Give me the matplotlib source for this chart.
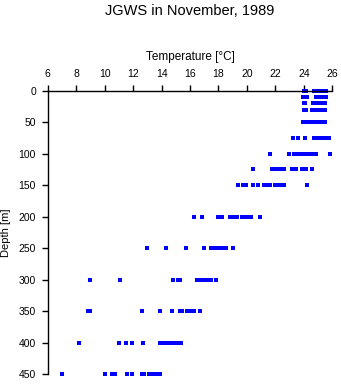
import matplotlib
matplotlib.use("Agg")
import matplotlib.pyplot as plt

plt.rcParams['font.family'] = ['Liberation Sans', 'DejaVu Sans']

# temperature readings (deg C) per sampling depth (m)
depths = [0, 10, 20, 30, 50, 75, 100, 125, 150, 200, 250, 300, 350, 400, 450]
temps = [
    [24.0, 24.15, 24.7, 24.85, 25.0, 25.1, 25.25, 25.4, 25.55],
    [23.95, 24.1, 24.25, 24.85, 25.1, 25.25, 25.4, 25.55],
    [24.0, 24.1, 24.65, 24.8, 25.0, 25.15, 25.3, 25.5],
    [24.0, 24.15, 24.6, 24.75, 24.95, 25.1, 25.3, 25.5],
    [23.95, 24.1, 24.3, 24.5, 24.75, 24.9, 25.1, 25.3, 25.5],
    [23.25, 23.6, 24.1, 24.7, 24.9, 25.1, 25.3, 25.5, 25.75],
    [21.65, 22.95, 23.3, 23.55, 23.75, 23.95, 24.15, 24.35, 24.5, 24.7, 24.85, 25.85],
    [20.4, 21.75, 21.95, 22.15, 22.35, 22.6, 23.2, 23.45, 23.9, 24.15, 24.6],
    [19.35, 19.75, 19.95, 20.4, 20.8, 21.2, 21.4, 21.6, 22.0, 22.2, 22.4, 22.6, 24.2],
    [16.3, 16.85, 17.95, 18.25, 18.8, 19.0, 19.3, 19.65, 19.9, 20.1, 20.3, 20.9],
    [13.0, 14.3, 15.7, 17.0, 17.5, 17.65, 17.9, 18.1, 18.3, 18.5, 19.0],
    [9.0, 11.1, 14.8, 15.15, 15.3, 16.5, 16.75, 16.95, 17.1, 17.35, 17.5, 17.8],
    [8.85, 8.95, 12.6, 13.9, 14.7, 15.3, 15.45, 15.8, 16.1, 16.3, 16.7],
    [8.2, 11.0, 11.5, 11.9, 12.7, 13.9, 14.05, 14.2, 14.35, 14.45, 14.75, 14.9, 15.05, 15.2, 15.35],
    [7.0, 10.0, 10.5, 10.7, 11.6, 11.9, 12.6, 12.75, 13.15, 13.35, 13.5, 13.7, 13.9],
]
xticks = list(range(6, 27, 2))
yticks = list(range(0, 451, 50))

fig = plt.figure(figsize=(3.41, 3.84), dpi=100)
ax = fig.add_axes([0.1399, 0.0253, 0.8346, 0.7385])

for d, row in zip(depths, temps):
    ax.plot(row, [d] * len(row), 's', color='#0000ff', ms=2.2, mew=0,
            antialiased=False, clip_on=False)

ax.set_xlim(6, 26)
ax.set_ylim(450, 0)
ax.set_xticks(xticks)
ax.set_yticks(yticks)
ax.xaxis.tick_top()
ax.spines['right'].set_visible(False)
ax.spines['bottom'].set_visible(False)
for s in ('top', 'left'):
    ax.spines[s].set_linewidth(1.0)
ax.tick_params(axis='both', direction='out', length=4.5, width=1.0, pad=4, labelsize=7.5)

ax.set_xlabel('Temperature [\u00b0C]', fontsize=8.5, va='center')
ax.xaxis.set_label_position('top')
ax.xaxis.set_label_coords(0.5, 1.108)
ax.set_ylabel('Depth [m]', fontsize=8, va='center')
ax.yaxis.set_label_coords(-0.1465, 0.5)

fig.text(190 / 341, 1 - 11 / 384, 'JGWS in November, 1989', ha='center', va='center', fontsize=10.5)

fig.savefig('out.png', dpi=100)
